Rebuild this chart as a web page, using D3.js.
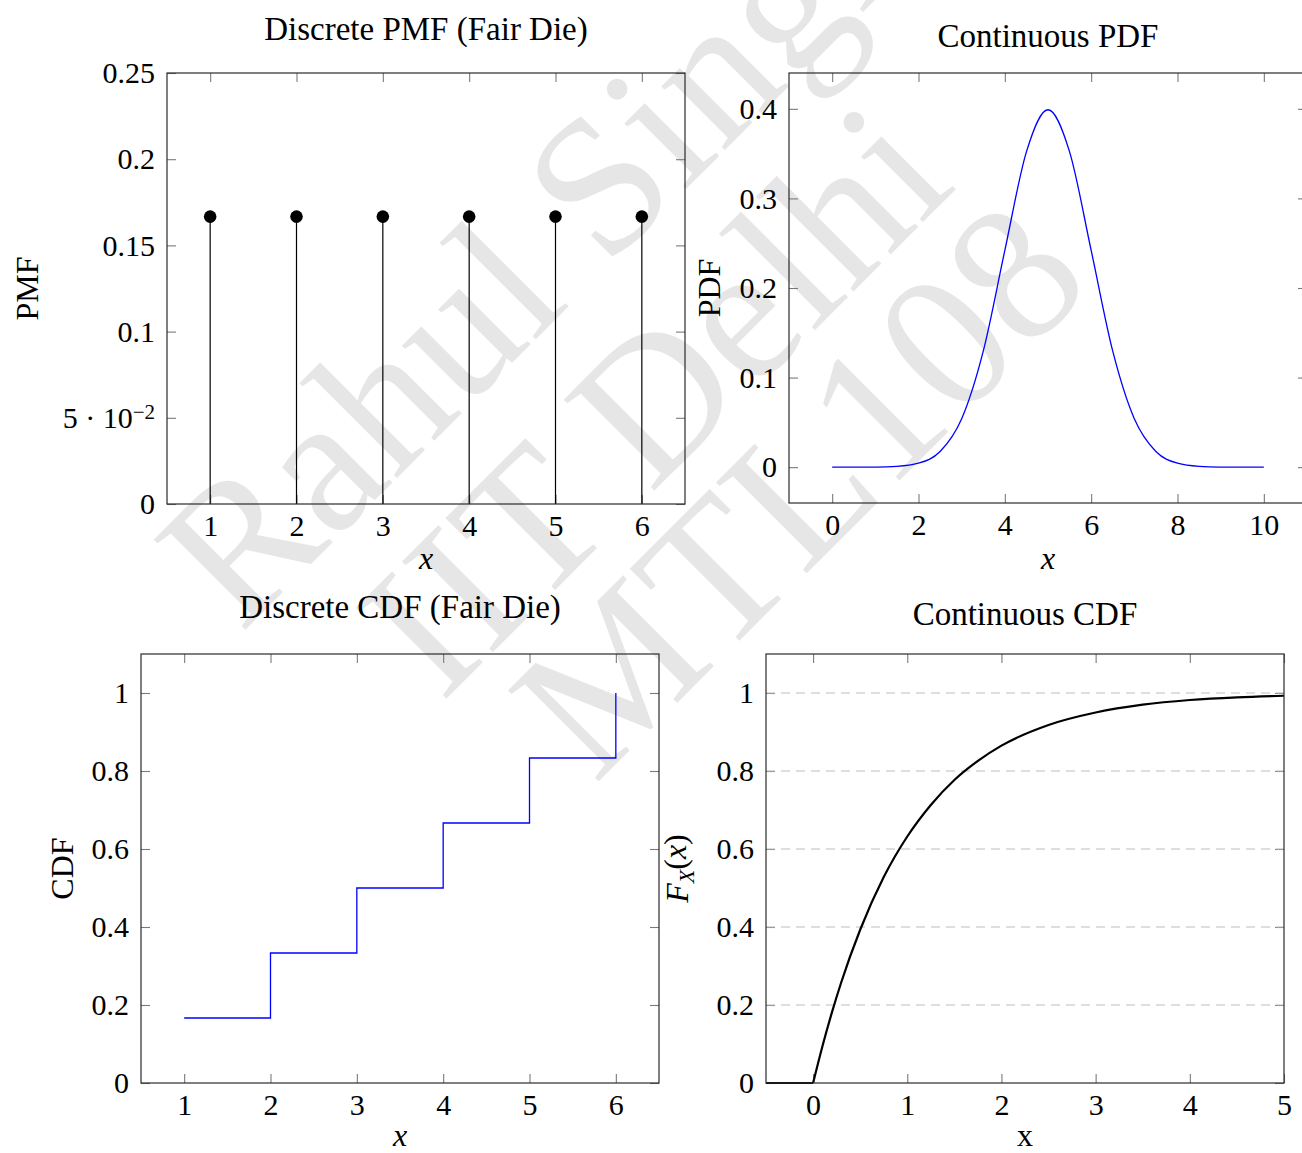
<!DOCTYPE html>
<html>
<head>
<meta charset="utf-8">
<script src="https://cdn.jsdelivr.net/npm/d3@7"></script>
<style>
  body { margin: 0; background: #fff; }
  text { font-family: "Liberation Serif", "DejaVu Serif", serif; fill: #000; }
</style>
</head>
<body>
<div id="chart"></div>
<script>
// ---- data ----
const dieFaces = [1, 2, 3, 4, 5, 6];
const pmfValues = [0.1667, 0.1667, 0.1667, 0.1667, 0.1667, 0.1667];
const pmfYTicks = [0, 0.05, 0.1, 0.15, 0.2, 0.25];
const pmfYLabels = ["0", "5 · 10^−2", "0.1", "0.15", "0.2", "0.25"];

const pdfX = [0, 0.5, 1, 1.5, 2, 2.5, 3, 3.5, 4, 4.5, 5, 5.5, 6, 6.5, 7, 7.5, 8, 8.5, 9, 9.5, 10];
const pdfY = [0, 0.00002, 0.00013, 0.0009, 0.0044, 0.0175, 0.054, 0.1295, 0.242, 0.352, 0.399,
              0.352, 0.242, 0.1295, 0.054, 0.0175, 0.0044, 0.0009, 0.00013, 0.00002, 0];
const pdfXTicks = [0, 2, 4, 6, 8, 10];
const pdfYTicks = [0, 0.1, 0.2, 0.3, 0.4];

const cdfSteps = [0.1667, 0.3333, 0.5, 0.6667, 0.8333, 1];
const cdfYTicks = [0, 0.2, 0.4, 0.6, 0.8, 1];

const contFlatX = [-0.5, 0];
const contFlatY = [0, 0];
const contX = [0, 0.1, 0.2, 0.3, 0.5, 0.75, 1, 1.25, 1.5, 1.75, 2, 2.5, 3, 3.5, 4, 4.5, 5];
const contY = [0, 0.095, 0.181, 0.259, 0.393, 0.528, 0.632, 0.713, 0.777, 0.826, 0.865, 0.918, 0.950, 0.970, 0.982, 0.989, 0.993];
const contXTicks = [0, 1, 2, 3, 4, 5];

const watermark = ["Rahul Singh", "IIT Delhi", "MTL108"];

const width = 1302, height = 1153;
const tickLen = 9;
const serif = "'Liberation Serif', 'DejaVu Serif', serif";
const fmt = d3.format("~g");

const svg = d3.select("#chart").append("svg")
  .attr("width", width)
  .attr("height", height);

// watermark, drawn underneath
const wmPos = [[585, 290], [700, 445], [845, 535]];
watermark.forEach((t, i) => {
  svg.append("text")
    .attr("transform", `translate(${wmPos[i][0]},${wmPos[i][1]}) rotate(-45)`)
    .attr("text-anchor", "middle")
    .style("font-size", "196px")
    .style("fill", "#e6e6e6")
    .text(t);
});

function makePanel(box, xdom, ydom, xticks, yticks) {
  const x = d3.scaleLinear().domain(xdom).range([box.left, box.right]);
  const y = d3.scaleLinear().domain(ydom).range([box.bottom, box.top]);
  const g = svg.append("g");

  g.append("g").attr("class", "axis")
    .attr("transform", `translate(0,${box.bottom})`)
    .call(d3.axisBottom(x).tickValues(xticks).tickFormat(fmt).tickSizeInner(-tickLen).tickSizeOuter(0).tickPadding(11));
  g.append("g").attr("class", "axis")
    .attr("transform", `translate(0,${box.top})`)
    .call(d3.axisTop(x).tickValues(xticks).tickSizeInner(-tickLen).tickSizeOuter(0).tickFormat(""));
  g.append("g").attr("class", "axis yaxis")
    .attr("transform", `translate(${box.left},0)`)
    .call(d3.axisLeft(y).tickValues(yticks).tickFormat(fmt).tickSizeInner(-tickLen).tickSizeOuter(0).tickPadding(12));
  g.append("g").attr("class", "axis")
    .attr("transform", `translate(${box.right},0)`)
    .call(d3.axisRight(y).tickValues(yticks).tickSizeInner(-tickLen).tickSizeOuter(0).tickFormat(""));

  g.selectAll(".axis").attr("font-family", serif).attr("font-size", 30);
  g.selectAll(".axis .domain").remove();
  g.selectAll(".axis .tick line").attr("stroke", "#7a7a7a").attr("stroke-width", 1.1);

  const plot = svg.append("g");
  svg.append("rect")
    .attr("x", box.left).attr("y", box.top)
    .attr("width", box.right - box.left).attr("height", box.bottom - box.top)
    .attr("fill", "none").attr("stroke", "#2a2a2a").attr("stroke-width", 1.2);
  return { x, y, g, plot, box };
}

function title(p, txt, baseline) {
  svg.append("text")
    .attr("x", (p.box.left + p.box.right) / 2).attr("y", baseline)
    .attr("text-anchor", "middle").style("font-size", "33px").text(txt);
}
function xlabel(p, baseline, italic) {
  svg.append("text")
    .attr("x", (p.box.left + p.box.right) / 2).attr("y", baseline)
    .attr("text-anchor", "middle").style("font-size", "32px")
    .style("font-style", italic ? "italic" : "normal").text("x");
}
function ylabel(p, xpos) {
  return svg.append("text")
    .attr("transform", `translate(${xpos},${(p.box.top + p.box.bottom) / 2}) rotate(-90)`)
    .attr("text-anchor", "middle").style("font-size", "32px");
}

// ---- panel 1: discrete PMF ----
const p1 = makePanel({ left: 167, right: 685, top: 73, bottom: 504 }, [0.5, 6.5], [0, 0.25], dieFaces, pmfYTicks);
p1.g.select(".yaxis").selectAll(".tick text").each(function (d, i) {
  const lab = pmfYLabels[i];
  const t = d3.select(this);
  if (lab.includes("^")) {
    const [base, sup] = lab.split("^");
    t.text(null);
    t.append("tspan").text(base);
    t.append("tspan").attr("dy", "-0.42em").style("font-size", "21px").text(sup);
  } else {
    t.text(lab);
  }
});
p1.plot.selectAll("line.stem").data(dieFaces).join("line")
  .attr("x1", d => p1.x(d)).attr("x2", d => p1.x(d))
  .attr("y1", p1.y(0)).attr("y2", (d, i) => p1.y(pmfValues[i]))
  .attr("stroke", "#000").attr("stroke-width", 1.2);
p1.plot.selectAll("circle").data(dieFaces).join("circle")
  .attr("cx", d => p1.x(d)).attr("cy", (d, i) => p1.y(pmfValues[i]))
  .attr("r", 6.3).attr("fill", "#000");
title(p1, "Discrete PMF (Fair Die)", 40);
xlabel(p1, 569, true);
ylabel(p1, 38).text("PMF");

// ---- panel 2: continuous PDF ----
const p2 = makePanel({ left: 789, right: 1307, top: 73, bottom: 503 }, [-1, 11], [-0.04, 0.44], pdfXTicks, pdfYTicks);
p2.plot.append("path")
  .datum(pdfX.map((d, i) => [d, pdfY[i]]))
  .attr("fill", "none").attr("stroke", "#0000ff").attr("stroke-width", 1.3)
  .attr("d", d3.line().x(d => p2.x(d[0])).y(d => p2.y(d[1])).curve(d3.curveMonotoneX));
title(p2, "Continuous PDF", 47);
xlabel(p2, 569, true);
ylabel(p2, 720).text("PDF");

// ---- panel 3: discrete CDF ----
const p3 = makePanel({ left: 141, right: 659, top: 654, bottom: 1083 }, [0.5, 6.5], [0, 1.1], dieFaces, cdfYTicks);
p3.plot.append("path")
  .datum(dieFaces.map((d, i) => [d, cdfSteps[i]]))
  .attr("fill", "none").attr("stroke", "#0000ff").attr("stroke-width", 1.3)
  .attr("d", d3.line().x(d => p3.x(d[0])).y(d => p3.y(d[1])).curve(d3.curveStepAfter));
title(p3, "Discrete CDF (Fair Die)", 618);
xlabel(p3, 1146, true);
ylabel(p3, 73).text("CDF");

// ---- panel 4: continuous CDF ----
const p4 = makePanel({ left: 766, right: 1284, top: 654, bottom: 1083 }, [-0.5, 5], [0, 1.1], contXTicks, cdfYTicks);
p4.plot.selectAll("line.grid").data(cdfYTicks.slice(1)).join("line")
  .attr("x1", p4.box.left).attr("x2", p4.box.right)
  .attr("y1", d => p4.y(d)).attr("y2", d => p4.y(d))
  .attr("stroke", "#bdbdbd").attr("stroke-width", 1.1).attr("stroke-dasharray", "9,6");
const line4 = d3.line().x(d => p4.x(d[0])).y(d => p4.y(d[1]));
p4.plot.append("path")
  .datum(contFlatX.map((d, i) => [d, contFlatY[i]]))
  .attr("fill", "none").attr("stroke", "#000").attr("stroke-width", 2.2)
  .attr("d", line4);
p4.plot.append("path")
  .datum(contX.map((d, i) => [d, contY[i]]))
  .attr("fill", "none").attr("stroke", "#000").attr("stroke-width", 2.2)
  .attr("d", line4.curve(d3.curveMonotoneX));
title(p4, "Continuous CDF", 625);
xlabel(p4, 1146, false);
const fx = ylabel(p4, 688);
fx.append("tspan").style("font-style", "italic").text("F");
fx.append("tspan").style("font-style", "italic").style("font-size", "22px").attr("dy", "0.25em").text("X");
fx.append("tspan").attr("dy", "-0.25em").text("(");
fx.append("tspan").style("font-style", "italic").text("x");
fx.append("tspan").text(")");
</script>
</body>
</html>
